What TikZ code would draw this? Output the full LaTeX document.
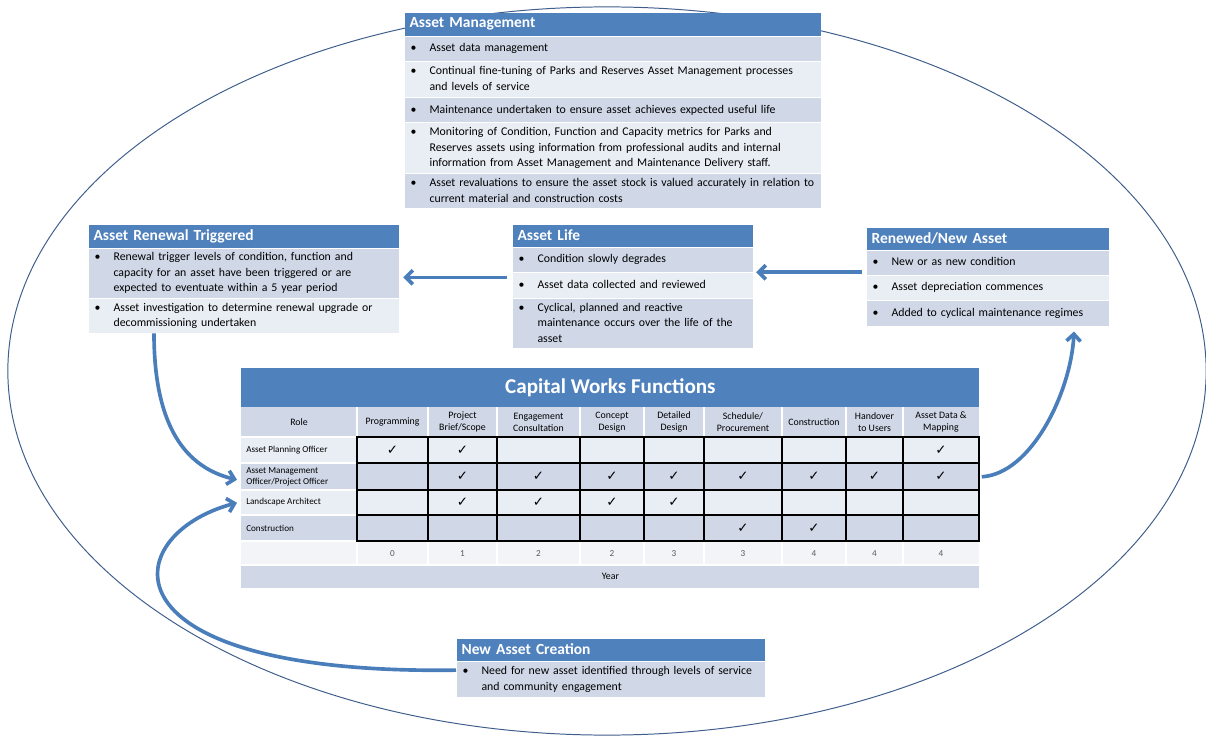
\documentclass[tikz,border=0pt]{standalone}
\usepackage{fontspec}
\setmainfont{Carlito}
\newfontfamily\symfont{DejaVu Sans}
\usetikzlibrary{arrows.meta,calc}
\definecolor{hdblue}{HTML}{4F81BD}
\definecolor{rowdk}{HTML}{D0D8E8}
\definecolor{rowlt}{HTML}{E9EDF4}
\definecolor{flowblue}{HTML}{4A7EBB}
\definecolor{ringblue}{HTML}{3F5E8C}
\newcommand{\bl}[1]{\makebox[0.475cm][l]{\textbullet}\begin{tabular}[t]{@{}l@{}}#1\end{tabular}}

\begin{document}
\begin{tikzpicture}[x=0.025cm, y=-0.025cm,
            hd/.style={anchor=north west, fill=hdblue, text=white, font=\fontsize{11}{13}\selectfont\bfseries, inner xsep=0.125cm, inner ysep=0pt, outer sep=0.4pt, align=left, text width=#1},
            itm/.style={anchor=north west, inner xsep=0.15cm, inner ysep=0pt, outer sep=0.4pt, align=left, font=\fontsize{8.4}{11}\selectfont, text width=#1},
            tbrow/.style={anchor=north west, minimum width=18.45cm, inner sep=0pt, font=\fontsize{7}{8}\selectfont},
            hdtxt/.style={align=center, inner sep=0pt, font=\fontsize{7}{8.5}\selectfont},
            rltxt/.style={anchor=west, align=left, inner sep=0pt, font=\fontsize{6.5}{7.8}\selectfont},
            numtxt/.style={inner sep=0pt, text=black!65, font=\fontsize{6.5}{7.8}\selectfont},
            chk/.style={inner sep=0pt, font=\symfont\fontsize{9.5}{9.5}\selectfont},
            sepline/.style={white, line width=0.8pt},
            grid/.style={black, line width=1.3pt},
            flow/.style={draw=flowblue, line width=2.6pt, -{Straight Barb[length=5pt,width=10pt]}},
            ring/.style={draw=ringblue, line width=0.7pt}]
            \useasboundingbox (0,0) rectangle (1206,736);
            \draw[ring] (607,371) ellipse [x radius=14.975cm, y radius=9.1cm];

            \node[hd=10.15cm, minimum height=0.575cm] (amhd) at (404,12) {Asset Management};
            \node[itm=10.1cm, fill=rowdk, minimum height=0.6cm] (am1) at (amhd.south west) {\bl{Asset data management}};
            \node[itm=10.1cm, fill=rowlt, minimum height=0.875cm] (am2) at (am1.south west) {\bl{Continual fine-tuning of Parks and Reserves Asset Management processes\\and levels of service}};
            \node[itm=10.1cm, fill=rowdk, minimum height=0.6cm] (am3) at (am2.south west) {\bl{Maintenance undertaken to ensure asset achieves expected useful life}};
            \node[itm=10.1cm, fill=rowlt, minimum height=1.25cm] (am4) at (am3.south west) {\bl{Monitoring of Condition, Function and Capacity metrics for Parks and\\Reserves assets using information from professional audits and internal\\information from Asset Management and Maintenance Delivery staff.}};
            \node[itm=10.1cm, fill=rowdk, minimum height=0.85cm] (am5) at (am4.south west) {\bl{Asset revaluations to ensure the asset stock is valued accurately in relation to\\current material and construction costs}};

            \node[hd=7.5cm, minimum height=0.575cm] (arthd) at (88,224) {Asset Renewal Triggered};
            \node[itm=7.45cm, fill=rowdk, minimum height=1.225cm] (art1) at (arthd.south west) {\bl{Renewal trigger levels of condition, function and\\capacity for an asset have been triggered or are\\expected to eventuate within a 5 year period}};
            \node[itm=7.45cm, fill=rowlt, minimum height=0.85cm] (art2) at (art1.south west) {\bl{Asset investigation to determine renewal upgrade or\\decommissioning undertaken}};

            \node[hd=5.75cm, minimum height=0.55cm] (alhd) at (512,224) {Asset Life};
            \node[itm=5.7cm, fill=rowdk, minimum height=0.6cm] (al1) at (alhd.south west) {\bl{Condition slowly degrades}};
            \node[itm=5.7cm, fill=rowlt, minimum height=0.625cm] (al2) at (al1.south west) {\bl{Asset data collected and reviewed}};
            \node[itm=5.7cm, fill=rowdk, minimum height=1.225cm] (al3) at (al2.south west) {\bl{Cyclical, planned and reactive\\maintenance occurs over the life of the\\asset}};

            \node[hd=5.8cm, minimum height=0.55cm] (rnhd) at (866,227) {Renewed/New Asset};
            \node[itm=5.75cm, fill=rowdk, minimum height=0.6cm] (rn1) at (rnhd.south west) {\bl{New or as new condition}};
            \node[itm=5.75cm, fill=rowlt, minimum height=0.6cm] (rn2) at (rn1.south west) {\bl{Asset depreciation commences}};
            \node[itm=5.75cm, fill=rowdk, minimum height=0.625cm] (rn3) at (rn2.south west) {\bl{Added to cyclical maintenance regimes}};

            \node[hd=7.45cm, minimum height=0.55cm] (nachd) at (456,638) {New Asset Creation};
            \node[itm=7.4cm, fill=rowdk, minimum height=0.875cm] (nac1) at (nachd.south west) {\bl{Need for new asset identified through levels of service\\and community engagement}};

            \node[tbrow, fill=hdblue, text=white, minimum height=0.975cm, font=\fontsize{15}{17}\selectfont\bfseries] (cwf) at (241,368) {Capital Works Functions};
            \node[tbrow, fill=rowdk, minimum height=0.75cm] (thd) at (241,407) {};
            \node[tbrow, fill=rowlt, minimum height=0.65cm] (tr1) at (241,437) {};
            \node[tbrow, fill=rowdk, minimum height=0.675cm] (tr2) at (241,463) {};
            \node[tbrow, fill=rowlt, minimum height=0.625cm] (tr3) at (241,490) {};
            \node[tbrow, fill=rowdk, minimum height=0.65cm] (tr4) at (241,515) {};
            \node[tbrow, fill=rowlt!60!white, minimum height=0.6cm] (tn) at (241,541) {};
            \node[tbrow, fill=rowdk, minimum height=0.575cm] (ty) at (241,565) {Year};
            \foreach \x in {357,428,497,580,644,704,782,846,903}
                \draw[sepline] (\x,407) -- (\x,437) (\x,541) -- (\x,565);
            \foreach \y in {437,463,490,515,541,565}
                \draw[sepline] (241,\y) -- (979,\y);

            \node[hdtxt] (hrole) at (299,422) {Role};
            \foreach \x/\t [count=\i] in {392.5/Programming, 462.5/{Project\\Brief/Scope}, 538.5/{Engagement\\Consultation}, 612/{Concept\\Design}, 674/{Detailed\\Design}, 743/{Schedule/\\Procurement}, 814/Construction, 874.5/{Handover\\to Users}, 941/{Asset Data \&\\Mapping}}
                \node[hdtxt] (hd\i) at (\x,422) {\t};
            \node[rltxt] (rl1) at (246,450) {Asset Planning Officer};
            \node[rltxt] (rl2) at (246,476.5) {Asset Management\\Officer/Project Officer};
            \node[rltxt] (rl3) at (246,502.5) {Landscape Architect};
            \node[rltxt] (rl4) at (246,528) {Construction};

            \draw[grid, line width=1.8pt] (357,437) rectangle (979,541);
            \foreach \x in {428,497,580,644,704,782,846,903}
                \draw[grid] (\x,437) -- (\x,541);
            \foreach \y in {463,490,515}
                \draw[grid] (357,\y) -- (979,\y);
            \foreach \c/\r in {1/1,2/1,9/1,2/2,3/2,4/2,5/2,6/2,7/2,8/2,9/2,2/3,3/3,4/3,5/3,6/4,7/4}
                \node[chk] (ck\r\c) at (hd\c |- tr\r) {✓};
            \foreach \v [count=\i] in {0,1,2,2,3,3,4,4,4}
                \node[numtxt] (yr\i) at (hd\i |- tn) {\v};

            \draw[flow] ($(al2.west)+(-5,-8)$) -- ($(art1.east |- al2.west)+(4,-8)$);
            \draw[flow] ($(rn2.north west)+(-4,-3)$) -- ($(al2.north east |- rn2.north west)+(3,-3)$);
            \draw[flow] ($(art2.south west)+(66,0)$) .. controls +(0,95) and +(-50,-12) .. ($(tr2.west)+(-4,3)$);
            \draw[flow] ($(tr2.east)+(2,0)$) .. controls +(50,-3) and +(-3,60) .. ($(rn3.south west)+(208,5)$);
            \draw[flow] ($(nac1.north west)+(0,9)$) .. controls +(-360,5) and +(-120,32) .. ($(tr3.west)+(-4,0)$);
\end{tikzpicture}
\end{document}
